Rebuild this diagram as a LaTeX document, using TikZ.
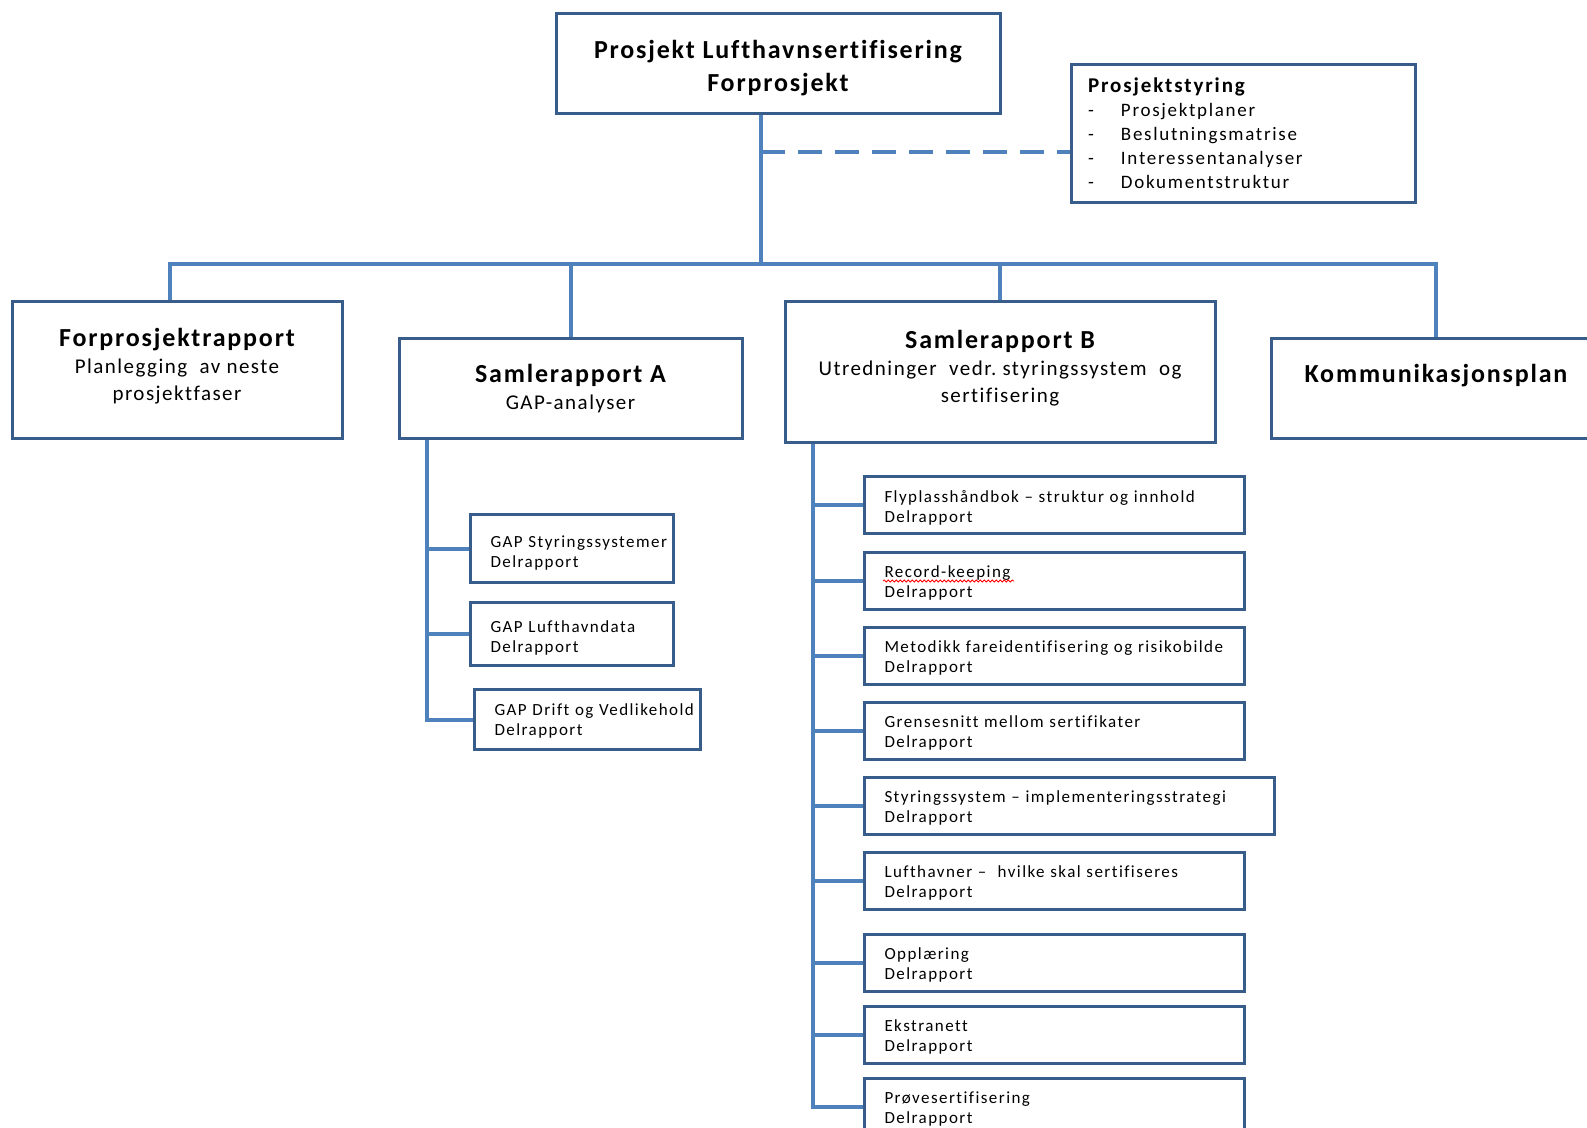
\documentclass[tikz,border=0pt]{standalone}
\usepackage{fontspec}
\setmainfont[Ligatures=NoCommon]{Carlito}
\newfontfamily\delfont[LetterSpace=8.5,Ligatures=NoCommon]{Carlito}
\newfontfamily\widefont[LetterSpace=7,Ligatures=NoCommon]{Carlito}
\newfontfamily\listfont[LetterSpace=9,Ligatures=NoCommon]{Carlito}
\usepackage{tikz}
\usetikzlibrary{positioning,backgrounds,decorations.pathmorphing}

\definecolor{boxblue}{RGB}{56,93,138}
\definecolor{linkblue}{RGB}{79,129,189}
\newcommand{\boxtitle}{\widefont\fontsize{26}{32}\selectfont\bfseries}
\newcommand{\boxsub}{\widefont\fontsize{21}{27}\selectfont}

\begin{document}
\begin{tikzpicture}[x=1pt,y=-1pt,
	box/.style={draw=boxblue, line width=3pt, inner sep=0pt, align=center},
	delbox/.style={draw=boxblue, line width=3pt, inner xsep=20pt, inner ysep=0pt, align=left, anchor=north west, text depth=18pt, font=\delfont\fontsize{17}{20}\selectfont},
	link/.style={draw=linkblue, line width=4pt}]
	\useasboundingbox (0,0) rectangle (1587,1127);

	% top level
	\node[box, minimum width=444pt, minimum height=100pt, font=\fontsize{26}{33}\selectfont\widefont\bfseries, text height=62pt, text depth=6pt] (proj) at (778,63) {Prosjekt Lufthavnsertifisering\\Forprosjekt};
	\node[box, minimum width=344pt, minimum height=138pt, align=left, text width=310pt, inner xsep=17pt, font=\listfont\fontsize{19}{24}\selectfont] (styr) at (1243,133)
		{{\bfseries\fontsize{21}{24}\selectfont Prosjektstyring}\\
		\makebox[33pt][l]{-}Prosjektplaner\\
		\makebox[33pt][l]{-}Beslutningsmatrise\\
		\makebox[33pt][l]{-}Interessentanalyser\\
		\makebox[33pt][l]{-}Dokumentstruktur};

	% second level
	\node[box, minimum width=330pt, minimum height=137pt, font=\boxsub, text depth=10pt] (fpr) at (177,369.5) {{\boxtitle Forprosjektrapport}\\Planlegging~ av neste\\prosjektfaser};
	\node[box, minimum width=343pt, minimum height=100pt, font=\boxsub, text depth=3pt] (sa) at (570.5,388) {{\boxtitle Samlerapport A}\\GAP-analyser};
	\node[box, minimum width=430pt, minimum height=141pt, font=\boxsub, text depth=11pt] (sb) at (1000,371.5) {{\boxtitle Samlerapport B}\\Utredninger~ vedr.\ styringssystem~ og\\sertifisering};
	\node[box, minimum width=330pt, minimum height=100pt, font=\boxtitle, text depth=29pt] (komm) at (1436,388) {Kommunikasjonsplan};

	% delrapporter A
	\node[delbox, minimum width=203pt, minimum height=68pt, text width=163pt, text depth=14pt] (g1) at (469,513) {\mbox{GAP Styringssystemer}\\Delrapport};
	\node[delbox, minimum width=203pt, minimum height=63pt, text width=163pt, text depth=14pt] (g2) at (469,601) {GAP Lufthavndata\\Delrapport};
	\node[delbox, minimum width=226pt, minimum height=60pt, text width=186pt, text depth=20pt] (g3) at (473,688) {\mbox{GAP Drift og Vedlikehold}\\Delrapport};

	% delrapporter B
	\foreach \n/\top/\w/\tw/\txt in {1/475/380/340/{Flyplasshåndbok – struktur og innhold},
		2/551/380/340/{Record-keeping},
		3/626/380/340/{Metodikk fareidentifisering og risikobilde},
		4/701/380/340/{Grensesnitt mellom sertifikater},
		5/776/410/370/{Styringssystem – implementeringsstrategi},
		6/851/380/340/{Lufthavner –~ hvilke skal sertifiseres},
		7/933/380/340/{Opplæring},
		8/1005/380/340/{Ekstranett},
		9/1077/380/340/{Prøvesertifisering}}
		\node[delbox, minimum width=\w pt, minimum height=57pt, text width=\tw pt] (d\n) at (863,\top) {\txt\\Delrapport};
	\draw[red, line width=0.8pt, decorate, decoration={snake, segment length=4pt, amplitude=1pt}] ([xshift=20pt,yshift=-30pt]d2.north west) -- ++(131,0);

	% connectors
	\begin{scope}[on background layer]
		\coordinate (bus) at (761,264);
		\coordinate (dashstart) at (761,152);
		\draw[link] (proj.south -| bus) -- (bus);
		\draw[link, dash pattern=on 24pt off 13pt] (dashstart) -- (dashstart -| styr.west);
		\draw[link] (bus) -| ([xshift=-7pt]fpr.north);
		\foreach \b in {sa,sb,komm}
			\draw[link] (bus) -| (\b.north);
		\foreach \g in {g1,g2,g3}
			\draw[link] ([xshift=29pt]sa.south west) |- (\g.west);
		\foreach \n in {1,...,9}
			\draw[link] ([xshift=29pt]sb.south west) |- (d\n.west);
	\end{scope}
\end{tikzpicture}
\end{document}
